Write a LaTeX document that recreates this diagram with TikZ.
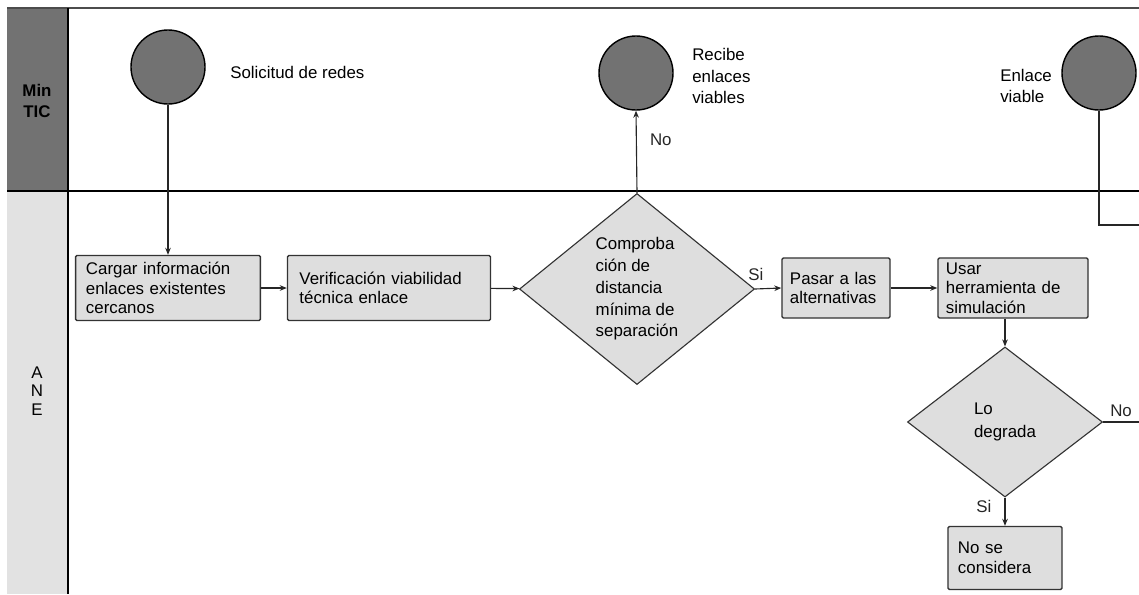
\documentclass[tikz,border=0pt]{standalone}
\usepackage{fontspec}
\setmainfont{Liberation Sans}
\usepackage{xcolor}
\usepackage{tikz}
\usetikzlibrary{shapes,shapes.geometric}
\usetikzlibrary{calc,arrows.meta,positioning}

\definecolor{grisoscuro}{RGB}{114,114,114}
\definecolor{grisclaro}{RGB}{222,222,222}
\definecolor{griscarril}{RGB}{226,226,226}

\begin{document}
\begin{tikzpicture}
[x=0.025cm,y=-0.025cm,font=\fontsize{12}{14}\selectfont,
proceso/.style={shape=rectangle,draw=black!80,line width=1pt,fill=grisclaro,
	rounded corners=1pt,align=left,inner xsep=0.3cm,inner ysep=0pt},
decision/.style={shape=diamond,draw=black!80,line width=0.8pt,fill=grisclaro,
	align=left,inner sep=0pt},
evento/.style={shape=circle,draw=black,line width=1pt,fill=grisoscuro,
	minimum size=1.85cm,inner sep=0pt},
etiqueta/.style={align=left,inner sep=0pt},
flecha/.style={-{Stealth[length=5pt,width=4pt]},line width=0.8pt,black!85}]
\useasboundingbox (0,0) rectangle (1139,594);
% carriles
\fill[grisoscuro] (7,8) rectangle (68,191);
\fill[griscarril] (7,191) rectangle (68,594);
\draw[line width=0.8pt,black!70] (7,8) -- (1139,8);
\draw[line width=1.6pt] (7,191) -- (1139,191);
\draw[line width=1.2pt] (68,8) -- (68,594);
\node[etiqueta,font=\fontsize{12}{15}\selectfont\bfseries,align=center] (mintic) at (37,101) {Min\\TIC};
\node[etiqueta,align=center,font=\fontsize{12}{13}\selectfont] (ane) at (37,391) {A\\N\\E};

% eventos
\node[evento] (e1) at (168,67) {};
\node[evento] (e2) at (636,73) {};
\node[evento] (e3) at (1099,73) {};
\node[etiqueta,anchor=west] (t1) at (230,72) {Solicitud de redes};
\node[etiqueta,anchor=west,font=\fontsize{12}{15}\selectfont] (t2) at (692,76) {Recibe\\enlaces\\viables};
\node[etiqueta,anchor=west,font=\fontsize{12}{15.5}\selectfont] (t3) at (1000,86) {Enlace\\viable};

% procesos
\node[proceso,text width=4.1cm,minimum height=1.625cm,inner xsep=0.26cm] (p1) at (168,288) {Cargar información\\enlaces existentes\\cercanos};
\node[proceso,text width=4.475cm,minimum height=1.625cm] (p2) at (389,288) {Verificación viabilidad\\técnica enlace};
\node[decision,minimum width=5.875cm,minimum height=4.775cm,font=\fontsize{12}{15.5}\selectfont] (d1) at (637,289) {Comproba\\ción de\\distancia\\mínima de\\separación};
\node[proceso,text width=2.3cm,minimum height=1.5cm,inner xsep=0.2cm] (p3) at (836,288) {Pasar a las\\alternativas};
\node[proceso,text width=3.35cm,minimum height=1.5cm,inner xsep=0.2cm] (p4) at (1013,288) {Usar\\herramienta de\\simulación};
\node[decision,minimum width=4.875cm,minimum height=3.75cm,font=\fontsize{12}{16}\selectfont] (d2) at (1005,422) {Lo\\degrada};
\node[proceso,text width=2.35cm,minimum height=1.575cm,inner xsep=0.25cm] (p5) at (1005,558) {No se\\considera};

\coordinate (fin1) at (1139,225);
\coordinate (fin2) at (1139,422);

\path
\foreach \startNode/\endNode in {e1/p1,p1/p2,p2/d1,p3/p4}
{
	(\startNode) edge[flecha] (\endNode)
};
\draw[flecha] (d1.north) -- node[right=6pt,pos=0.65] {No} (e2.south);
\draw[flecha] (d1.east) -- node[above left=2pt and -4pt,pos=0.3] {Si} (p3.west);
\draw[flecha] (d2.north |- p4.south) -- (d2.north);
\draw[flecha] (d2.south) -- node[left=6pt,pos=0.3] {Si} (p5.north);
\draw[line width=0.8pt,black!85] (d2.east) -- node[above,pos=0.5] {No} (fin2);
\draw[line width=0.8pt,black!85] (e3.south) |- (fin1);
\end{tikzpicture}
\end{document}
